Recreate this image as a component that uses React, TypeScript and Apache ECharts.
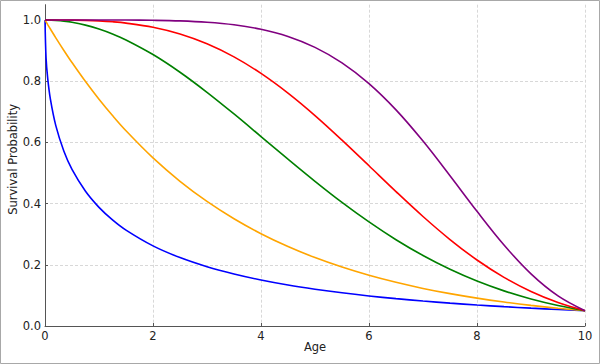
import React, { useEffect, useRef } from "react";
import * as echarts from "echarts";

// Age values (x) at which the curves were read
const ages = [0, 0.02, 0.05, 0.1, 0.2, 0.35, 0.5, 0.75, 1, 1.25, 1.5, 2, 2.5, 3, 3.5, 4, 4.5, 5, 5.5, 6, 6.5, 7, 7.5, 8, 8.5, 9, 9.5, 10];

// Survival probability per curve
const blueValues = [1, 0.8746, 0.8091, 0.7411, 0.6547, 0.5710, 0.5118, 0.4403, 0.3878, 0.3468, 0.3134, 0.2619, 0.2236, 0.1938, 0.1700, 0.1504, 0.1340, 0.1203, 0.1084, 0.0982, 0.0894, 0.0816, 0.0747, 0.0686, 0.0632, 0.0583, 0.0540, 0.05];
const orangeValues = [1, 0.9940, 0.9851, 0.9705, 0.9418, 0.9005, 0.8609, 0.7988, 0.7411, 0.6877, 0.6380, 0.5493, 0.4729, 0.4071, 0.3505, 0.3017, 0.2597, 0.2236, 0.1925, 0.1657, 0.1427, 0.1228, 0.1057, 0.0910, 0.0784, 0.0675, 0.0581, 0.05];
const greenValues = [1, 1, 0.9999, 0.9997, 0.9988, 0.9963, 0.9925, 0.9833, 0.9705, 0.9543, 0.9348, 0.8871, 0.8293, 0.7637, 0.6929, 0.6192, 0.5452, 0.4729, 0.4040, 0.3401, 0.2820, 0.2304, 0.1854, 0.1470, 0.1148, 0.0883, 0.0670, 0.05];
const redValues = [1, 1, 1, 1, 1, 0.9999, 0.9996, 0.9987, 0.9970, 0.9942, 0.9899, 0.9763, 0.9543, 0.9223, 0.8795, 0.8255, 0.7611, 0.6877, 0.6075, 0.5236, 0.4393, 0.3579, 0.2826, 0.2157, 0.1589, 0.1126, 0.0766, 0.05];
const purpleValues = [1, 1, 1, 1, 1, 1, 1, 1, 1, 0.9999, 0.9998, 0.9990, 0.9971, 0.9927, 0.9844, 0.9698, 0.9462, 0.9106, 0.8600, 0.7922, 0.7064, 0.6044, 0.4912, 0.3747, 0.2647, 0.1705, 0.0985, 0.05];

const xTicks = [0, 2, 4, 6, 8, 10];
const yTicks = [0, 0.2, 0.4, 0.6, 0.8, 1.0];

const curves = [
  { name: "blue", color: "#0000ff", values: blueValues },
  { name: "orange", color: "#ffa500", values: orangeValues },
  { name: "green", color: "#008000", values: greenValues },
  { name: "red", color: "#ff0000", values: redValues },
  { name: "purple", color: "#800080", values: purpleValues },
];

const FONT = "DejaVu Sans";

export default function App() {
  const ref = useRef<HTMLDivElement>(null);

  useEffect(() => {
    const chart = echarts.init(ref.current!, null, { renderer: "svg" });
    chart.setOption({
      animation: false,
      backgroundColor: "#ffffff",
      graphic: [
        {
          type: "rect",
          silent: true,
          shape: { x: 0.5, y: 0.5, width: 599, height: 363 },
          style: { fill: "none", stroke: "#a8a8a8", lineWidth: 1 },
        },
      ],
      grid: { left: 45, right: 15, top: 4.7, bottom: 38, containLabel: false, outerBoundsMode: "none" },
      xAxis: {
        type: "value",
        min: 0,
        max: 10,
        interval: 2,
        name: "Age",
        nameLocation: "middle",
        nameGap: 15,
        nameMoveOverlap: false,
        nameTextStyle: { fontFamily: FONT, fontSize: 11.5, color: "#222" },
        axisLine: { show: true, lineStyle: { color: "#555", width: 1 } },
        axisTick: { show: true, inside: true, length: 3, lineStyle: { color: "#555" }, customValues: xTicks },
        axisLabel: {
          fontFamily: FONT,
          fontSize: 11.5,
          color: "#222",
          margin: 4,
          customValues: xTicks,
          formatter: (v: number) => String(v),
        },
        splitLine: { show: true, showMaxLine: true, lineStyle: { color: "#d8d8d8", type: [3, 2], width: 1 } },
      },
      yAxis: {
        type: "value",
        min: 0,
        max: 1.05,
        interval: 0.2,
        name: "Survival Probability",
        nameLocation: "middle",
        nameGap: 26,
        nameMoveOverlap: false,
        nameTextStyle: { fontFamily: FONT, fontSize: 11.5, color: "#222", padding: [0, 0, 0, 12] },
        axisLine: { show: true, lineStyle: { color: "#555", width: 1 } },
        axisTick: { show: true, inside: true, length: 3, lineStyle: { color: "#555" }, customValues: yTicks },
        axisLabel: {
          fontFamily: FONT,
          fontSize: 11.5,
          color: "#222",
          margin: 4,
          customValues: yTicks,
          formatter: (v: number) => v.toFixed(1),
        },
        splitLine: { show: true, showMaxLine: false, lineStyle: { color: "#d8d8d8", type: [3, 2], width: 1 } },
      },
      series: curves.map((c) => ({
        name: c.name,
        type: "line",
        data: ages.map((a, i) => [a, c.values[i]]),
        showSymbol: false,
        smooth: 0.35,
        lineStyle: { color: c.color, width: 1.6 },
        itemStyle: { color: c.color },
      })),
    });
    return () => chart.dispose();
  }, []);

  return (
    <div
      ref={ref}
      style={{ position: "fixed", left: 0, top: 0, width: 600, height: 364, background: "#fff" }}
    />
  );
}
